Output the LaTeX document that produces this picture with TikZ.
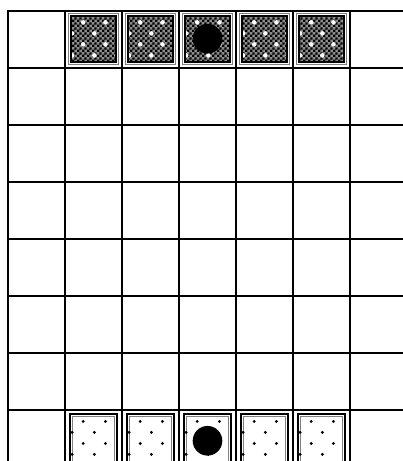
\documentclass[tikz,border=0pt]{standalone}
\usetikzlibrary{patterns}

% fine pixel checker for the upper tiles
\pgfdeclarepatternformonly{finecheck}{\pgfpointorigin}{\pgfqpoint{2.4pt}{2.4pt}}{\pgfqpoint{2.4pt}{2.4pt}}{%
  \pgfpathrectangle{\pgfpointorigin}{\pgfqpoint{1.2pt}{1.2pt}}%
  \pgfpathrectangle{\pgfqpoint{1.2pt}{1.2pt}}{\pgfqpoint{1.2pt}{1.2pt}}%
  \pgfusepath{fill}}

\begin{document}
\begin{tikzpicture}[
    gridline/.style={line width=1.4pt, draw=black, line cap=rect},
    outerframe/.style={draw=black!50, line width=0.6pt},
    innerframe/.style={draw=black, line width=1.0pt},
    darktile/.style={pattern=finecheck, pattern color=black},
    lightdot/.style={fill=white},
    darkdot/.style={fill=black},
    stone/.style={fill=black}
]
    \useasboundingbox (-0.1404,-7.8947) rectangle (6.9123,0.193);

    % board lines
    \foreach \c in {0,...,6}
        \draw [gridline] (\c,0) -- (\c,-8.2);
    \foreach \r in {0,...,7}
        \draw [gridline] (0,-\r) -- (7.2,-\r);

    % upper row of tiles
    \foreach \c in {1,...,5} {
        \draw [outerframe] (\c+0.06,-0.94) rectangle (\c+0.94,-0.05);
        \begin{scope}
            \clip (\c+0.1,-0.9) rectangle (\c+0.9,-0.09);
            \fill [black!45] (\c+0.1,-0.9) rectangle (\c+0.9,-0.09);
            \fill [darktile] (\c+0.1,-0.9) rectangle (\c+0.9,-0.09);
            \foreach \k [evaluate=\k as \dx using {(1-mod(\k,2))*0.195}] in {0,...,3}
                \foreach \j in {0,1,2}
                    \fill [lightdot] (\c+0.125+\dx+0.39*\j,-0.2-0.193*\k) circle (0.04);
        \end{scope}
        \draw [innerframe] (\c+0.1,-0.9) rectangle (\c+0.9,-0.09);
    }

    % lower row of tiles
    \foreach \c in {1,...,5} {
        \draw [innerframe] (\c+0.085,-7.94) rectangle (\c+0.915,-7.075);
        \draw [outerframe] (\c+0.125,-7.9) rectangle (\c+0.875,-7.115);
        \foreach \k [evaluate=\k as \dx using {(1-mod(\k,2))*0.195}] in {0,...,3}
            \foreach \j in {0,1,2} {
                \pgfmathsetmacro{\px}{0.125+\dx+0.39*\j}
                \ifdim \px pt<0.9pt
                    \fill [darkdot] (\c+\px,-7.2-0.193*\k) circle (0.028);
                \fi
            }
    }

    % stones
    \fill [stone] (3.5,-0.486) circle (0.26);
    \fill [stone] (3.5,-7.54) circle (0.26);
\end{tikzpicture}
\end{document}
